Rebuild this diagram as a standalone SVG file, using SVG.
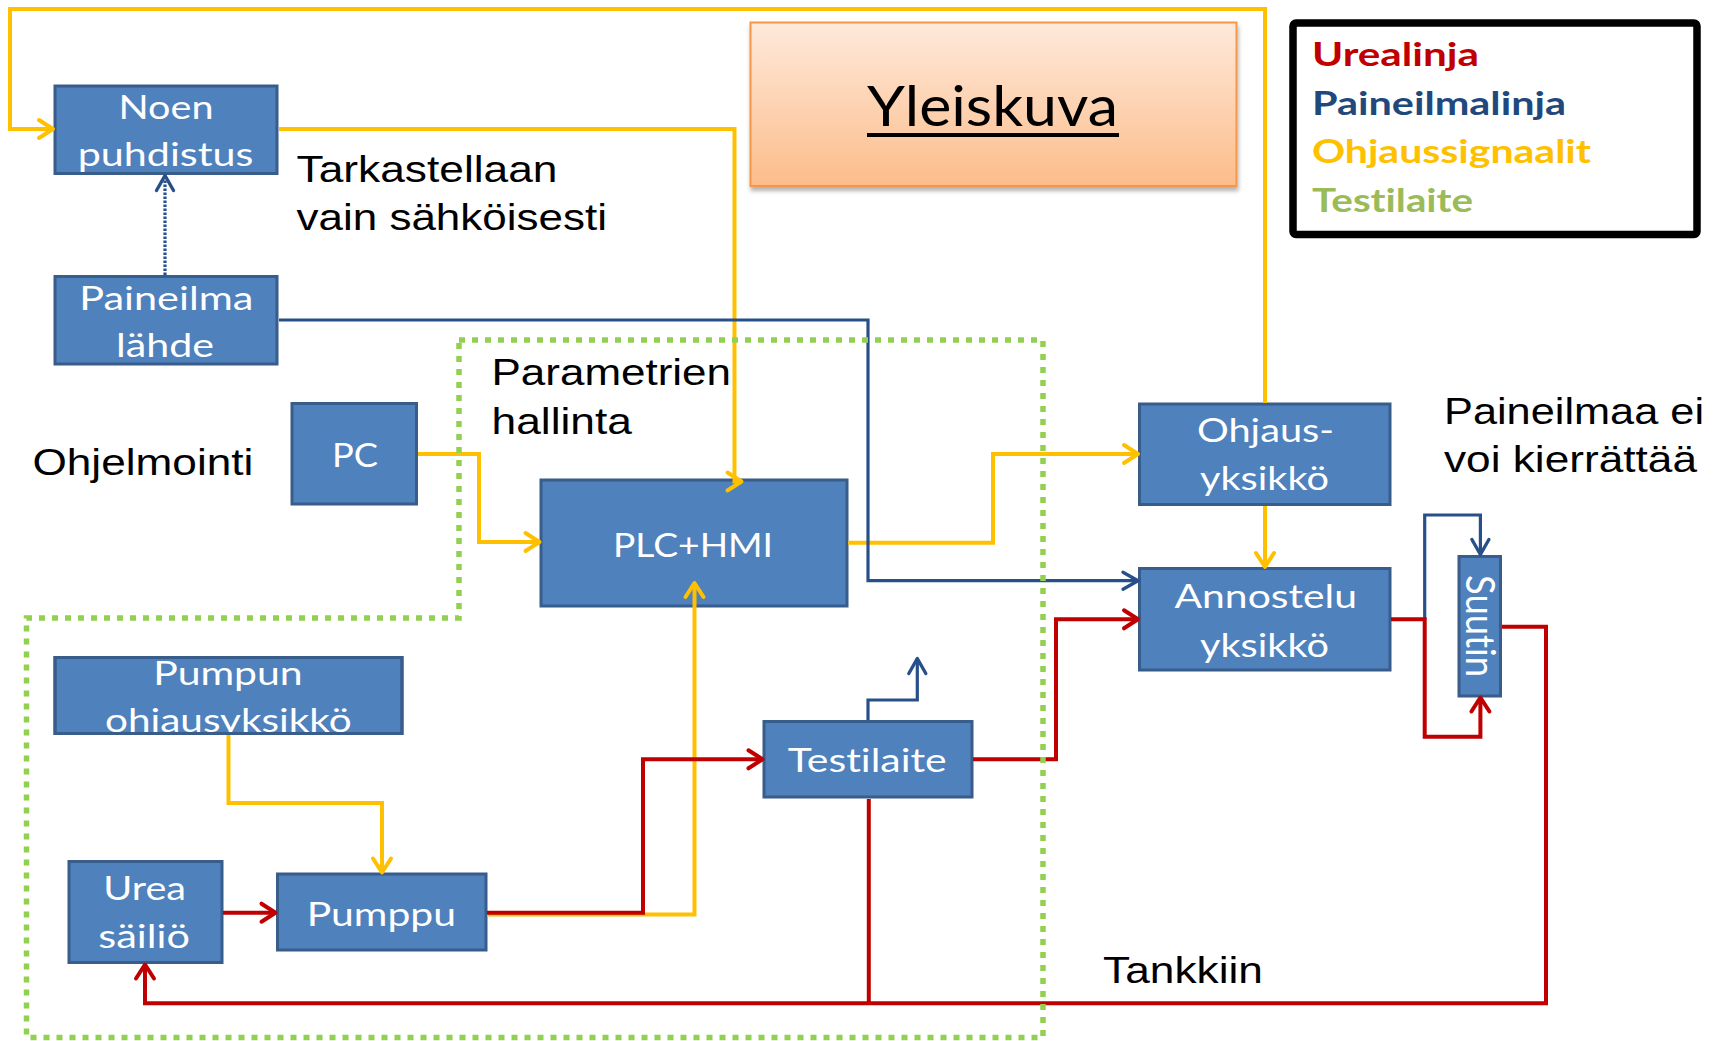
<svg xmlns="http://www.w3.org/2000/svg" width="1715" height="1041" viewBox="0 0 1715 1041">
  <defs>
    <linearGradient id="peach" x1="0" y1="0" x2="0" y2="1">
      <stop offset="0" stop-color="#fee9db"/>
      <stop offset="1" stop-color="#fcbd8a"/>
    </linearGradient>
    <filter id="shadow" x="-5%" y="-10%" width="110%" height="130%">
      <feDropShadow dx="1" dy="4" stdDeviation="2" flood-color="#000" flood-opacity="0.3"/>
    </filter>
    <marker id="arr-y" markerUnits="userSpaceOnUse" markerWidth="30" markerHeight="30" orient="auto" overflow="visible">
      <path d="M-14,-9 L0,0 L-14,9" fill="none" stroke="#ffc000" stroke-width="4" stroke-linecap="round" stroke-linejoin="round"/>
    </marker>
    <marker id="arr-r" markerUnits="userSpaceOnUse" markerWidth="30" markerHeight="30" orient="auto" overflow="visible">
      <path d="M-14,-9 L0,0 L-14,9" fill="none" stroke="#c00000" stroke-width="4" stroke-linecap="round" stroke-linejoin="round"/>
    </marker>
    <marker id="arr-b" markerUnits="userSpaceOnUse" markerWidth="30" markerHeight="30" orient="auto" overflow="visible">
      <path d="M-15,-8.5 L0,0 L-15,8.5" fill="none" stroke="#27508a" stroke-width="3.4" stroke-linecap="round" stroke-linejoin="round"/>
    </marker>
  </defs>
  <style>
    .box{fill:#4f81bd;stroke:#385d8a;stroke-width:3}
    .edge{fill:none;stroke:#385d8a;stroke-width:3}
    .bt{font-family:Lato,"Open Sans",sans-serif;font-size:32.5px;fill:#ffffff;font-variant-ligatures:none;font-feature-settings:"liga" 0}
    .lbl{font-family:"Liberation Sans",Arial,sans-serif;font-size:36.5px;fill:#000000}
    .leg{font-family:Lato,"Open Sans",sans-serif;font-weight:700;font-size:32px;font-variant-ligatures:none;font-feature-settings:"liga" 0}
    .c{fill:none;stroke-linejoin:miter}
    .y{stroke:#ffc000;stroke-width:4;marker-end:url(#arr-y)}
    .r{stroke:#c00000;stroke-width:4;marker-end:url(#arr-r)}
    .b{stroke:#27508a;stroke-width:3.2;marker-end:url(#arr-b)}
  </style>

  <rect width="1715" height="1041" fill="#ffffff"/>

  <!-- title -->
  <g id="title">
    <rect x="750.5" y="22.5" width="486" height="163.5" fill="url(#peach)" stroke="#f79646" stroke-width="2" filter="url(#shadow)"/>
    <text x="867" y="126" font-family="Lato, 'Open Sans', sans-serif" font-size="57" fill="#000" textLength="251" lengthAdjust="spacingAndGlyphs">Yleiskuva</text>
    <rect x="867" y="133" width="252" height="4" fill="#000"/>
  </g>

  <!-- legend -->
  <g id="legend">
    <rect x="1293" y="23" width="404" height="211.5" rx="3" fill="#fff" stroke="#000" stroke-width="7.5"/>
    <text class="leg" x="1312" y="65.7" fill="#c00000" textLength="167" lengthAdjust="spacingAndGlyphs">Urealinja</text>
    <text class="leg" x="1312" y="115" fill="#1f497d" textLength="254" lengthAdjust="spacingAndGlyphs">Paineilmalinja</text>
    <text class="leg" x="1312" y="163.3" fill="#ffc000" textLength="279" lengthAdjust="spacingAndGlyphs">Ohjaussignaalit</text>
    <text class="leg" x="1312" y="212.3" fill="#9bbb59" textLength="161" lengthAdjust="spacingAndGlyphs">Testilaite</text>
  </g>

  <!-- free labels -->
  <g id="labels">
    <text class="lbl" x="296.5" y="181.7" textLength="261" lengthAdjust="spacingAndGlyphs">Tarkastellaan</text>
    <text class="lbl" x="296.5" y="230" textLength="310.5" lengthAdjust="spacingAndGlyphs">vain sähköisesti</text>
    <text class="lbl" x="491.5" y="385" textLength="239.5" lengthAdjust="spacingAndGlyphs">Parametrien</text>
    <text class="lbl" x="491.5" y="434" textLength="140.5" lengthAdjust="spacingAndGlyphs">hallinta</text>
    <text class="lbl" x="32.4" y="475" textLength="221" lengthAdjust="spacingAndGlyphs">Ohjelmointi</text>
    <text class="lbl" x="1444" y="424.3" textLength="260" lengthAdjust="spacingAndGlyphs">Paineilmaa ei</text>
    <text class="lbl" x="1444" y="471.7" textLength="253" lengthAdjust="spacingAndGlyphs">voi kierrättää</text>
    <text class="lbl" x="1103" y="983.3" textLength="160" lengthAdjust="spacingAndGlyphs">Tankkiin</text>
  </g>

  <!-- nodes -->
  <g id="noen">
    <rect class="box" x="55" y="86" width="222" height="87.5"/>
    <text class="bt" x="118.5" y="119" textLength="95" lengthAdjust="spacingAndGlyphs">Noen</text>
    <text class="bt" x="77.7" y="165.7" textLength="175.7" lengthAdjust="spacingAndGlyphs">puhdistus</text>
  </g>
  <g id="paineilma">
    <rect class="box" x="55" y="276.5" width="222" height="87.5"/>
    <text class="bt" x="79.3" y="310" textLength="174" lengthAdjust="spacingAndGlyphs">Paineilma</text>
    <text class="bt" x="116" y="356.7" textLength="98" lengthAdjust="spacingAndGlyphs">lähde</text>
  </g>
  <g id="pc">
    <rect class="box" x="292" y="403.5" width="124.5" height="100.5"/>
    <text class="bt" x="332" y="466.5" textLength="46" lengthAdjust="spacingAndGlyphs">PC</text>
  </g>
  <g id="plc">
    <rect class="box" x="541" y="480" width="306" height="126"/>
    <text class="bt" x="613" y="556.7" textLength="160" lengthAdjust="spacingAndGlyphs">PLC+HMI</text>
  </g>
  <g id="ohjaus">
    <rect class="box" x="1139.5" y="404" width="250.5" height="100.5"/>
    <text class="bt" x="1197" y="442" textLength="137" lengthAdjust="spacingAndGlyphs">Ohjaus-</text>
    <text class="bt" x="1200" y="490" textLength="129" lengthAdjust="spacingAndGlyphs">yksikkö</text>
  </g>
  <g id="annostelu">
    <rect class="box" x="1139.5" y="568.5" width="250.5" height="101.5"/>
    <text class="bt" x="1174.5" y="608" textLength="182.5" lengthAdjust="spacingAndGlyphs">Annostelu</text>
    <text class="bt" x="1200" y="656.7" textLength="129" lengthAdjust="spacingAndGlyphs">yksikkö</text>
  </g>
  <g id="suutin">
    <rect class="box" x="1459" y="556.5" width="41.5" height="139.5"/>
    <text class="bt" transform="translate(1480,626) scale(1.22,1) rotate(90)" x="-51" y="11.5" textLength="102" lengthAdjust="spacingAndGlyphs">Suutin</text>
  </g>
  <g id="pumpun-ohjaus">
    <rect class="box" x="55" y="657.5" width="347" height="76"/>
    <text class="bt" x="153.3" y="685" textLength="149.4" lengthAdjust="spacingAndGlyphs">Pumpun</text>
    <text class="bt" x="105" y="731.7" textLength="246.7" lengthAdjust="spacingAndGlyphs">ohjausyksikkö</text>
    <rect class="edge" x="55" y="657.5" width="347" height="76"/>
  </g>
  <g id="urea">
    <rect class="box" x="69" y="861.5" width="153" height="101"/>
    <text class="bt" x="103.3" y="900" textLength="82.7" lengthAdjust="spacingAndGlyphs">Urea</text>
    <text class="bt" x="98.3" y="948.3" textLength="91.7" lengthAdjust="spacingAndGlyphs">säiliö</text>
  </g>
  <g id="pumppu">
    <rect class="box" x="277.5" y="874" width="208.5" height="76"/>
    <text class="bt" x="306.7" y="925.7" textLength="149.3" lengthAdjust="spacingAndGlyphs">Pumppu</text>
  </g>
  <g id="testilaite">
    <rect class="box" x="764" y="721.5" width="208" height="75.5"/>
    <text class="bt" x="787.7" y="771.7" textLength="159" lengthAdjust="spacingAndGlyphs">Testilaite</text>
  </g>

  <!-- connectors -->
  <g id="connectors">
    <!-- control signals -->
    <path class="c y" d="M1265,403 V9 H10 V129 H53"/>
    <path class="c y" d="M279,129 H734.5 V481.5 H741.5"/>
    <path class="c y" d="M418,454 H479 V542 H539.5"/>
    <path class="c y" d="M848,542.7 H993 V454 H1138"/>
    <path class="c y" d="M1265,506 V567"/>
    <path class="c y" d="M228.5,735 V803 H382 V872.5"/>
    <path class="c y" d="M487,914.5 H694.5 V583"/>
    <!-- compressed air -->
    <path class="c b" d="M279,320 H868 V580.7 H1138"/>
    <path class="c b" d="M165,275 V175.5" stroke-width="3.6" stroke-dasharray="2.5 1.5"/>
    <path class="c b" d="M868,720 V700 H917.3 V658.5"/>
    <path class="c b" d="M1424.7,619.3 V515 H1480.4 V554.5"/>
    <!-- urea line -->
    <path class="c r" d="M223,912.7 H275.5"/>
    <path class="c r" d="M487,912.7 H643 V759.3 H762.5"/>
    <path class="c r" d="M973,759.3 H1056 V619.3 H1138"/>
    <path class="c r" d="M1391,619.3 H1424.7 V736.7 H1480.4 V697.5"/>
    <path class="c r" d="M1502,626.7 H1546 V1003.3 H145 V964.5"/>
    <path class="c" d="M868.8,799 V1003.3" stroke="#c00000" stroke-width="4"/>
  </g>

  <!-- test device boundary -->
  <g id="boundary">
    <path d="M459,340 H1043 V1037.5 H26.5 V618 H459 Z" fill="none" stroke="#92d050" stroke-width="5.5" stroke-dasharray="6 7"/>
  </g>
</svg>
